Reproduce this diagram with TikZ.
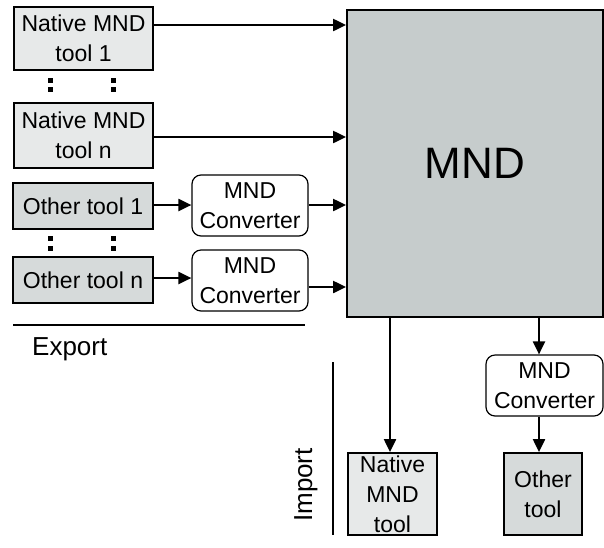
\documentclass[tikz,border=0pt]{standalone}
\usepackage{fontspec}
\setmainfont{Liberation Sans}
\usetikzlibrary{arrows.meta}
\definecolor{nativefill}{HTML}{E7E9E9}
\definecolor{otherfill}{HTML}{D6DADA}
\definecolor{mndfill}{HTML}{C6CCCC}
\tikzset{
  base/.style={draw=black, line width=1.8pt, align=center, inner sep=0pt,
    font=\fontsize{23}{30}\selectfont},
  nativebox/.style={base, fill=nativefill},
  otherbox/.style={base, fill=otherfill},
  convbox/.style={base, line width=1.2pt, fill=white, rounded corners=9pt, minimum width=116pt, minimum height=61pt},
  arr/.style={line width=2.1pt, -{Triangle[length=13pt,width=12pt]}},
  sepline/.style={line width=1.4pt},
  dotsq/.style={fill=black, minimum size=5pt, inner sep=0pt}
}
\begin{document}
\begin{tikzpicture}[x=1pt,y=-1pt]
\useasboundingbox (0,0) rectangle (604,547);
% main box
\node[base, fill=mndfill, minimum width=256pt, minimum height=307pt,
  font=\fontsize{44}{50}\selectfont] (mnd) at (475,163.5) {MND};
% export side
\node[nativebox, minimum width=139pt, minimum height=63pt] (n1) at (83.5,38.5) {Native MND\\tool 1};
\node[nativebox, minimum width=139pt, minimum height=65pt] (nn) at (83.5,135.5) {Native MND\\tool n};
\node[otherbox, minimum width=140pt, minimum height=46pt] (o1) at (83,206) {Other tool 1};
\node[otherbox, minimum width=140pt, minimum height=46pt] (on) at (83,280) {Other tool n};
\node[convbox] (c1) at (250,205.5) {MND\\Converter};
\node[convbox] (cn) at (250,280.5) {MND\\Converter};
% dots
\node[dotsq] (d1) at (50,80.5) {};
\node[dotsq] (d2) at (50,89.5) {};
\node[dotsq] (d3) at (113.5,80.5) {};
\node[dotsq] (d4) at (113.5,89.5) {};
\node[dotsq] (d5) at (50,238.5) {};
\node[dotsq] (d6) at (50,248.5) {};
\node[dotsq] (d7) at (113.5,238.5) {};
\node[dotsq] (d8) at (113.5,248.5) {};
% import side
\node[nativebox, minimum width=89pt, minimum height=82pt] (nb) at (392.5,494) {Native\\MND\\tool};
\node[otherbox, minimum width=78pt, minimum height=82pt] (ob) at (543,494) {Other\\tool};
\node[convbox, minimum width=117pt] (cb) at (544.5,385.5) {MND\\Converter};
% arrows
\draw[arr] (n1.east |- 0,25) -- (mnd.west |- 0,25);
\draw[arr] (nn.east |- 0,137) -- (mnd.west |- 0,137);
\draw[arr] (o1.east |- 0,205) -- (c1.west |- 0,205);
\draw[arr] (c1.east |- 0,205) -- (mnd.west |- 0,205);
\draw[arr] (on.east |- 0,278) -- (cn.west |- 0,278);
\draw[arr] (cn.east |- 0,287) -- (mnd.west |- 0,287);
\draw[arr] (mnd.south -| 390,0) -- (nb.north -| 390,0);
\draw[arr] (mnd.south -| 539,0) -- (cb.north -| 539,0);
\draw[arr] (cb.south -| 539,0) -- (ob.north -| 539,0);
% separators and labels
\coordinate (ex1) at (13,325);
\coordinate (ex2) at (305,325);
\draw[sepline] (ex1) -- (ex2);
\node[anchor=base west, inner sep=0pt, font=\fontsize{26}{30}\selectfont] (export) at (32,355) {Export};
\coordinate (im1) at (333,362);
\coordinate (im2) at (333,535);
\draw[sepline] (im1) -- (im2);
\node[anchor=base, rotate=90, inner sep=0pt, font=\fontsize{26}{30}\selectfont] (import) at (312,485) {Import};
\end{tikzpicture}
\end{document}
